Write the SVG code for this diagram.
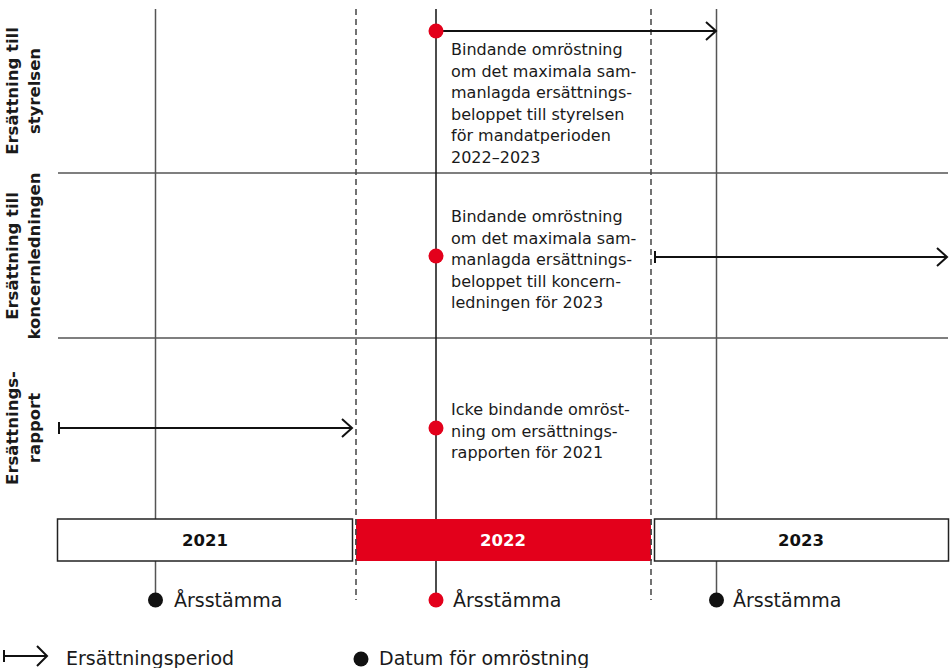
<svg xmlns="http://www.w3.org/2000/svg" width="951" height="668" viewBox="0 0 951 668">
<defs>
<style>
.t{font-family:"DejaVu Sans","Liberation Sans",sans-serif;font-size:16px;fill:#1a1a1a}
.lbl{font-family:"DejaVu Sans","Liberation Sans",sans-serif;font-size:16.5px;font-weight:bold;fill:#1a1a1a;text-anchor:middle}
.yr{font-family:"DejaVu Sans","Liberation Sans",sans-serif;font-size:16.5px;font-weight:bold;text-anchor:middle}
.big{font-family:"DejaVu Sans","Liberation Sans",sans-serif;font-size:19px;fill:#1a1a1a}
.grid{stroke:#555;stroke-width:1.5;fill:none}
.blk{stroke:#111;stroke-width:1.5;fill:none}
.dash{stroke:#444;stroke-width:1.5;stroke-dasharray:6 4;fill:none}
.arr{stroke:#111;stroke-width:2;fill:none}
.red{fill:#e3001b}
</style>
</defs>
<g id="grid">
<line class="grid" x1="58" y1="173" x2="948" y2="173"/>
<line class="grid" x1="58" y1="338" x2="948" y2="338"/>
<line class="grid" x1="155.5" y1="9" x2="155.5" y2="600"/>
<line class="blk" x1="436" y1="9" x2="436" y2="600"/>
<line class="grid" x1="716.5" y1="9" x2="716.5" y2="600"/>
<line class="dash" x1="356" y1="9" x2="356" y2="600"/>
<line class="dash" x1="651" y1="9" x2="651" y2="600"/>
</g>
<g id="row-labels">
<text class="lbl" transform="translate(18,91) rotate(-90)">Ersättning till</text>
<text class="lbl" transform="translate(40,91) rotate(-90)">styrelsen</text>
<text class="lbl" transform="translate(18,256) rotate(-90)">Ersättning till</text>
<text class="lbl" transform="translate(40,256) rotate(-90)">koncernledningen</text>
<text class="lbl" transform="translate(18,428) rotate(-90)">Ersättnings-</text>
<text class="lbl" transform="translate(40,428) rotate(-90)">rapport</text>
</g>
<g id="connectors">
<path class="arr" d="M436 31 H715 M706 22 L716 31 L706 40"/>
<path class="arr" d="M655 251 V263 M655 257 H946 M937 248 L947 257 L937 266"/>
<path class="arr" d="M59 422 V434 M59 428 H351 M342 419 L352 428 L342 437"/>
</g>
<g id="vote-styrelsen">
<circle class="red" cx="436" cy="31" r="7.5"/>
<text class="t" x="451" y="55">Bindande omröstning</text>
<text class="t" x="451" y="76.5">om det maximala sam-</text>
<text class="t" x="451" y="98">manlagda ersättnings-</text>
<text class="t" x="451" y="119.5">beloppet till styrelsen</text>
<text class="t" x="451" y="141">för mandatperioden</text>
<text class="t" x="451" y="162.5">2022–2023</text>
</g>
<g id="vote-koncernledningen">
<circle class="red" cx="436" cy="256" r="7.5"/>
<text class="t" x="451" y="222">Bindande omröstning</text>
<text class="t" x="451" y="243.5">om det maximala sam-</text>
<text class="t" x="451" y="265">manlagda ersättnings-</text>
<text class="t" x="451" y="286.5">beloppet till koncern-</text>
<text class="t" x="451" y="308">ledningen för 2023</text>
</g>
<g id="vote-rapport">
<circle class="red" cx="436" cy="428" r="7.5"/>
<text class="t" x="451" y="415">Icke bindande omröst-</text>
<text class="t" x="451" y="436.5">ning om ersättnings-</text>
<text class="t" x="451" y="458">rapporten för 2021</text>
</g>
<g id="year-2021">
<rect x="57.5" y="519" width="295" height="42" fill="#fff" stroke="#222" stroke-width="1.5"/>
<text class="yr" x="205" y="546" fill="#111">2021</text>
</g>
<g id="year-2022">
<rect x="356" y="519" width="295" height="42" class="red"/>
<text class="yr" x="503" y="546" fill="#fff">2022</text>
</g>
<g id="year-2023">
<rect x="654.5" y="519" width="294" height="42" fill="#fff" stroke="#222" stroke-width="1.5"/>
<text class="yr" x="801" y="546" fill="#111">2023</text>
</g>
<line class="dash" x1="356" y1="519" x2="356" y2="561"/>
<line class="dash" x1="651" y1="519" x2="651" y2="561"/>
<g id="agm-2021">
<circle cx="155.5" cy="600" r="7.5" fill="#111"/>
<text class="big" x="174" y="607">Årsstämma</text>
</g>
<g id="agm-2022">
<circle class="red" cx="436" cy="600" r="7.5"/>
<text class="big" x="453" y="607">Årsstämma</text>
</g>
<g id="agm-2023">
<circle cx="716.5" cy="600" r="7.5" fill="#111"/>
<text class="big" x="733" y="607">Årsstämma</text>
</g>
<g id="legend">
<path class="arr" d="M4 650 V662 M4 656 H47 M37 646 L47 656 L37 666"/>
<text class="big" x="66" y="665">Ersättningsperiod</text>
<circle cx="361" cy="659" r="7.5" fill="#111"/>
<text class="big" x="379" y="665">Datum för omröstning</text>
</g>
</svg>
